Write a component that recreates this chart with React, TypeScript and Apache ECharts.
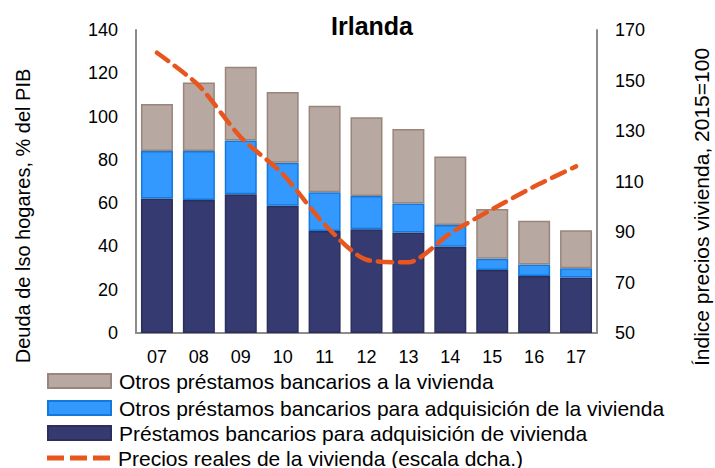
import React, { useEffect, useRef } from "react";
import * as echarts from "echarts";

const categories = ["07", "08", "09", "10", "11", "12", "13", "14", "15", "16", "17"];
const viviendaAdq = [62.2, 61.5, 64.1, 58.8, 47.1, 47.9, 46.4, 39.9, 29.1, 26.3, 25.6];
const otrosAdq = [21.9, 22.6, 24.8, 19.9, 17.9, 15.4, 13.4, 10.0, 5.2, 5.3, 4.3];
const otrosVivienda = [21.7, 31.7, 34.1, 32.7, 40.0, 36.4, 34.5, 31.7, 23.0, 20.3, 17.6];
const precios = [161, 148, 127.5, 113, 93, 79, 78, 89.5, 99, 108, 116];
const leftTicks = { min: 0, max: 140, interval: 20 };
const rightTicks = { min: 50, max: 170, interval: 20 };

const FONT = "'Liberation Sans', Arial, sans-serif";

const N1 = "Otros préstamos bancarios a la vivienda";
const N2 = "Otros préstamos bancarios para adquisición de la vivienda";
const N3 = "Préstamos bancarios para adquisición de vivienda";
const N4 = "Precios reales de la vivienda (escala dcha.)";

export default function App() {
  const ref = useRef<HTMLDivElement>(null);
  useEffect(() => {
    if (!ref.current) return;
    const chart = echarts.init(ref.current, undefined, { renderer: "svg" });
    const axisLine = { show: true, lineStyle: { color: "#8c8c8c", width: 2 } };
    const legendText = { fontFamily: FONT, fontSize: 21, lineHeight: 22, color: "#000", padding: [0, 0, 0, 3] };
    const legendBase = (name: string, top: number) => ({
      orient: "vertical",
      left: 47,
      top,
      padding: 0,
      itemWidth: 63,
      itemHeight: 14,
      textStyle: legendText,
      data: [{ name, icon: "rect" }],
    });
    chart.setOption({
      animation: false,
      textStyle: { fontFamily: FONT },
      title: {
        text: "Irlanda",
        left: 367,
        textAlign: "center",
        top: 8,
        textStyle: { fontFamily: FONT, fontSize: 25, fontWeight: "bold", color: "#000" },
      },
      grid: { left: 136, right: 118, top: 30, bottom: 135, containLabel: false },
      legend: [
        legendBase(N1, 370),
        legendBase(N2, 397),
        legendBase(N3, 422),
        {
          orient: "vertical",
          left: 47,
          top: 447,
          padding: 0,
          itemWidth: 63,
          itemHeight: 5,
          textStyle: legendText,
          data: [
            {
              name: N4,
              icon: "path://M0,0h17v5h-17z M23,0h17v5h-17z M46,0h17v5h-17z",
              itemStyle: { color: "#e8561f" },
            },
          ],
        },
      ],
      xAxis: {
        type: "category",
        data: categories,
        axisLine,
        axisTick: { show: false },
        axisLabel: { fontFamily: FONT, fontSize: 18, color: "#000", margin: 15 },
      },
      yAxis: [
        {
          type: "value",
          ...leftTicks,
          axisLine,
          axisTick: { show: false },
          splitLine: { show: false },
          axisLabel: { fontFamily: FONT, fontSize: 18, color: "#000", margin: 18 },
        },
        {
          type: "value",
          ...rightTicks,
          position: "right",
          axisLine,
          axisTick: { show: false },
          splitLine: { show: false },
          axisLabel: { fontFamily: FONT, fontSize: 18, color: "#000", margin: 18 },
        },
      ],
      graphic: [
        {
          type: "text",
          x: 23,
          y: 216,
          rotation: Math.PI / 2,
          style: {
            text: "Deuda de lso hogares, % del PIB",
            fontFamily: FONT,
            fontSize: 20,
            fill: "#000",
            align: "center",
            verticalAlign: "middle",
          },
        },
        {
          type: "text",
          x: 701,
          y: 207,
          rotation: Math.PI / 2,
          style: {
            text: "Índice precios vivienda, 2015=100",
            fontFamily: FONT,
            fontSize: 21,
            fill: "#000",
            align: "center",
            verticalAlign: "middle",
          },
        },
      ],
      series: [
        {
          name: N3,
          type: "bar",
          stack: "deuda",
          data: viviendaAdq,
          barWidth: 32,
          itemStyle: { color: "#353a70", borderColor: "#2b2f5c", borderWidth: 1.5 },
        },
        {
          name: N2,
          type: "bar",
          stack: "deuda",
          data: otrosAdq,
          barWidth: 32,
          itemStyle: { color: "#3399ff", borderColor: "#1478dc", borderWidth: 1.5 },
        },
        {
          name: N1,
          type: "bar",
          stack: "deuda",
          data: otrosVivienda,
          barWidth: 32,
          itemStyle: { color: "#b7a9a2", borderColor: "#9a857a", borderWidth: 1.5 },
        },
        {
          name: N4,
          type: "line",
          yAxisIndex: 1,
          data: precios,
          symbol: "none",
          smooth: 0.25,
          lineStyle: { color: "#e8561f", width: 4.5, type: [14, 8], cap: "round" },
          itemStyle: { color: "#e8561f" },
          z: 5,
        },
      ],
    });
    return () => chart.dispose();
  }, []);
  return <div ref={ref} style={{ width: 715, height: 468, position: "absolute", left: 0, top: 0 }} />;
}
